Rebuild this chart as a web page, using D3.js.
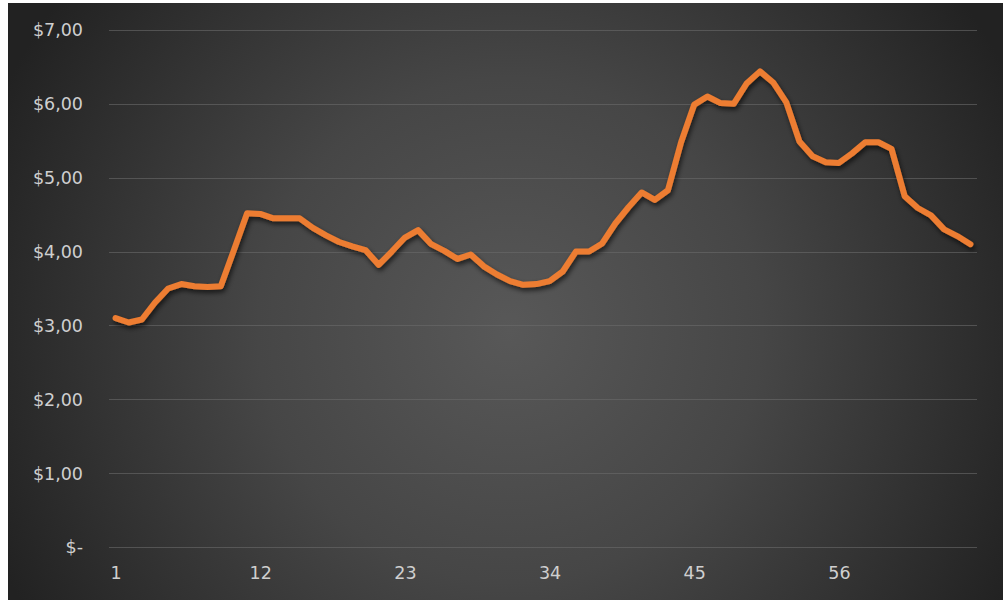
<!DOCTYPE html>
<html>
<head>
<meta charset="utf-8">
<script src="https://cdn.jsdelivr.net/npm/d3@7/dist/d3.min.js"></script>
<style>
  html, body { margin: 0; padding: 0; background: #ffffff; }
  svg { display: block; }
</style>
</head>
<body>
<svg id="chart" width="1003" height="600"></svg>
<script>
// Period numbers on the category axis
const periods = d3.range(1, 67);

// Price per period (dollars)
const prices = [
  3.10, 3.04, 3.08, 3.31, 3.50, 3.56, 3.53, 3.52, 3.53, 4.02,
  4.52, 4.51, 4.45, 4.45, 4.45, 4.32, 4.22, 4.13, 4.07, 4.02,
  3.82, 4.00, 4.19, 4.29, 4.10, 4.01, 3.90, 3.96, 3.80, 3.69,
  3.60, 3.55, 3.56, 3.60, 3.73, 4.00, 4.00, 4.11, 4.38, 4.60,
  4.80, 4.70, 4.83, 5.48, 5.99, 6.10, 6.01, 6.00, 6.28, 6.44,
  6.29, 6.02, 5.49, 5.29, 5.21, 5.20, 5.33, 5.48, 5.48, 5.39,
  4.75, 4.59, 4.49, 4.30, 4.21, 4.10
];

// Axis labels
const xTickLabels = [1, 12, 23, 34, 45, 56];
const yTickValues = [0, 1, 2, 3, 4, 5, 6, 7];

const svg = d3.select("#chart");
const W = 1003, H = 600;

const defs = svg.append("defs");
const bg = defs.append("radialGradient")
  .attr("id", "bgGrad")
  .attr("gradientUnits", "userSpaceOnUse")
  .attr("cx", 510).attr("cy", 330).attr("r", 560);
bg.append("stop").attr("offset", "0%").attr("stop-color", "#585858");
bg.append("stop").attr("offset", "45%").attr("stop-color", "#464646");
bg.append("stop").attr("offset", "100%").attr("stop-color", "#222222");

const shadow = defs.append("filter")
  .attr("id", "lineShadow")
  .attr("x", "-5%").attr("y", "-10%").attr("width", "110%").attr("height", "130%");
shadow.append("feDropShadow")
  .attr("dx", 1.5).attr("dy", 3).attr("stdDeviation", 2.5)
  .attr("flood-color", "#000000").attr("flood-opacity", 0.65);

// Chart area background
svg.append("rect")
  .attr("x", 8).attr("y", 3)
  .attr("width", W - 8).attr("height", H - 3)
  .attr("fill", "url(#bgGrad)");

const plot = { left: 109, right: 977, top: 30, bottom: 547 };

const x = d3.scalePoint()
  .domain(periods)
  .range([plot.left, plot.right])
  .padding(0.5);

const y = d3.scaleLinear()
  .domain([0, 7])
  .range([plot.bottom, plot.top]);

const fmt = v => v === 0 ? "$-" : "$" + d3.format(".2f")(v).replace(".", ",");

// Horizontal gridlines
svg.append("g")
  .selectAll("line")
  .data(yTickValues)
  .join("line")
  .attr("x1", plot.left).attr("x2", plot.right)
  .attr("y1", d => Math.round(y(d)) + 0.5)
  .attr("y2", d => Math.round(y(d)) + 0.5)
  .attr("stroke", "#6a6a6a")
  .attr("stroke-opacity", 0.6)
  .attr("stroke-width", 1);

// Y axis labels
const yAxis = d3.axisLeft(y).tickValues(yTickValues).tickFormat(fmt).tickSize(0).tickPadding(0);
const gy = svg.append("g").attr("transform", `translate(${83},0)`).call(yAxis);
gy.select(".domain").remove();
gy.selectAll("text")
  .attr("fill", "#cfcfcf")
  .attr("font-family", "'DejaVu Sans', sans-serif")
  .attr("font-size", 17.5)
  .attr("dy", "0.34em");

// X axis labels
const xAxis = d3.axisBottom(x).tickValues(xTickLabels).tickSize(0).tickPadding(0);
const gx = svg.append("g").attr("transform", `translate(0,${567})`).call(xAxis);
gx.select(".domain").remove();
gx.selectAll("text")
  .attr("fill", "#cfcfcf")
  .attr("font-family", "'DejaVu Sans', sans-serif")
  .attr("font-size", 17.5)
  .attr("dy", "0.71em");

// Price line
const line = d3.line()
  .x((d, i) => x(periods[i]))
  .y(d => y(d));

svg.append("path")
  .datum(prices)
  .attr("d", line)
  .attr("fill", "none")
  .attr("stroke", "#ED7D31")
  .attr("stroke-width", 6)
  .attr("stroke-linejoin", "round")
  .attr("stroke-linecap", "round")
  .attr("filter", "url(#lineShadow)");
</script>
</body>
</html>
